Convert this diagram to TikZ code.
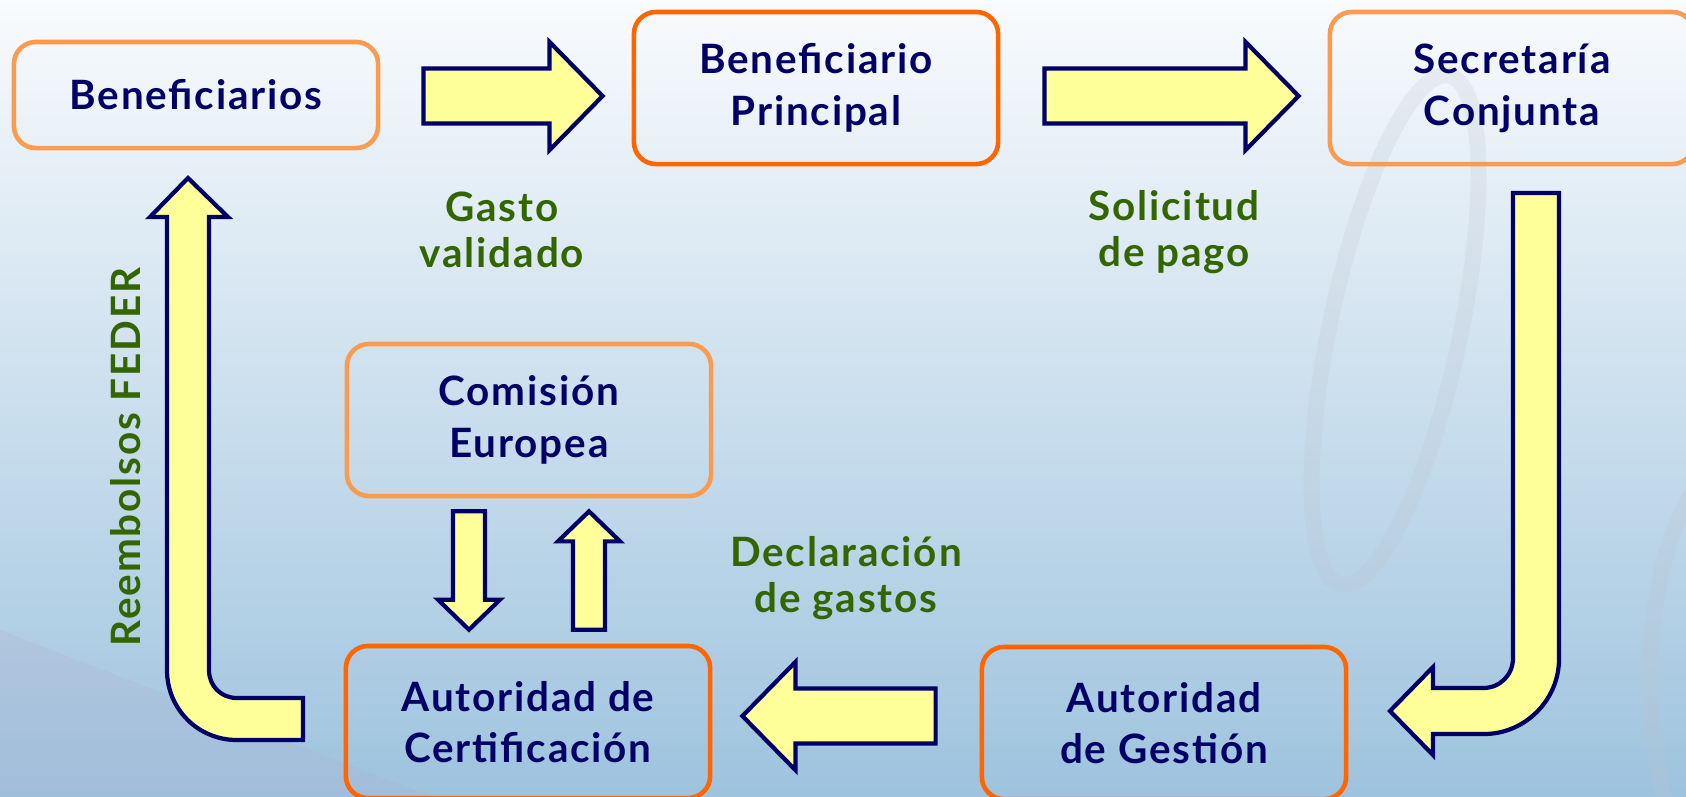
\documentclass[tikz,border=0pt]{standalone}
\usepackage{fontspec}
\setsansfont{Lato}[LetterSpace=4.5]
\usetikzlibrary{calc}
\tikzstyle{box}=[draw={rgb,255: red,250; green,155; blue,80}, line width=1.3pt, rounded corners=0.22cm, minimum width=3.64cm, minimum height=1.52cm, align=center, text={rgb,255: red,0; green,0; blue,102}, font=\sffamily\bfseries\fontsize{11.5}{14.7}\selectfont]
\tikzstyle{hot}=[box, draw={rgb,255: red,255; green,102; blue,0}]
\tikzstyle{note}=[align=center, text={rgb,255: red,51; green,102; blue,0}, font=\sffamily\bfseries\fontsize{11.5}{12.9}\selectfont]
\tikzstyle{blk}=[fill={rgb,255: red,255; green,255; blue,153}, draw={rgb,255: red,0; green,0; blue,102}, line width=1.2pt, line join=miter]
\tikzset{arr/.style n args={3}{blk, to path={
    ($(\tikztostart)!#1!90:(\tikztotarget)$)
    -- ($(\tikztotarget)!#3!(\tikztostart)!#1!-90:(\tikztostart)$)
    -- ($(\tikztotarget)!#3!(\tikztostart)!#2!-90:(\tikztostart)$)
    -- (\tikztotarget)
    -- ($(\tikztotarget)!#3!(\tikztostart)!#2!90:(\tikztostart)$)
    -- ($(\tikztotarget)!#3!(\tikztostart)!#1!90:(\tikztostart)$)
    -- ($(\tikztostart)!#1!-90:(\tikztotarget)$) -- cycle}}}
\tikzstyle{fat}=[arr={0.275cm}{0.54cm}{0.53cm}]
\tikzstyle{slim}=[arr={0.16cm}{0.31cm}{0.30cm}]

\begin{document}
\begin{tikzpicture}[x=0.01cm, y=-0.01cm]
    \useasboundingbox (0,0) rectangle (1686,796);
    \clip (0,0) rectangle (1686,796);
    % background
    \shade [top color={rgb,255: red,249; green,251; blue,253}, middle color={rgb,255: red,228; green,238; blue,246}, bottom color={rgb,255: red,158; green,195; blue,222}] (0,0) rectangle (1686,796);
    \fill [fill={rgb,255: red,176; green,168; blue,200}, opacity=0.2] (0,630) -- (430,796) -- (0,796) -- cycle;
    \draw [draw={rgb,255: red,190; green,195; blue,205}, opacity=0.22, line width=0.16cm, rotate around={-12:(1395,330)}] (1395,330) ellipse [x radius=0.65cm, y radius=2.6cm];
    \draw [draw={rgb,255: red,190; green,195; blue,205}, opacity=0.22, line width=0.16cm] (1740,680) ellipse [x radius=0.9cm, y radius=2.2cm];
    % boxes
    \node [style=box] (0) at (196, 95) [minimum height=1.06cm] {Beneficiarios};
    \node [style=hot] (1) at (816, 88) {Beneficiario\\Principal};
    \node [style=box] (2) at (1512, 88) {Secretaría\\Conjunta};
    \node [style=box] (3) at (529, 420) {Comisión\\Europea};
    \node [style=hot] (4) at (528, 722) {Autoridad de\\Certificación};
    \node [style=hot] (5) at (1164, 723) {Autoridad\\de Gestión};
    % labels
    \node [style=note] (6) at (502, 230) {Gasto\\validado};
    \node [style=note] (7) at (1174, 232) {Solicitud\\de pago};
    \node [style=note] (8) at (846, 578) {Declaración\\de gastos};
    \node [style=note, rotate=90] (9) at (126, 457) {Reembolsos FEDER};
    % arrows
    \draw [fat] ($(0.east)+(43,1)$) to ($(1.west)+(-29,8)$);
    \draw [fat] ($(1.east)+(44,8)$) to ($(2.west)+(-29,8)$);
    \draw [fat] ($(5.west)+(-44,-7)$) to ($(4.east)+(30,-6)$);
    \draw [slim] ($(3.south)+(-60,13)$) to ($(4.north)+(-59,-14)$);
    \draw [slim] ($(4.north)+(61,-14)$) to ($(3.south)+(60,13)$);
    \draw [blk] (1513,193) -- (1559,193) -- (1559,659) .. controls (1559,700) and (1525,734) .. (1484,734) -- (1433,734) -- (1433,755) -- (1390,711) -- (1433,667) -- (1433,688) -- (1483,688) .. controls (1500,688) and (1513,675) .. (1513,658) -- cycle;
    \draw [blk] (303,698) -- (237,698) .. controls (221,698) and (209,686) .. (209,670) -- (209,217) -- (228,217) -- (188,178) -- (150,217) -- (167,217) -- (167,670) .. controls (167,709) and (198,740) .. (237,740) -- (303,740) -- cycle;
\end{tikzpicture}
\end{document}
